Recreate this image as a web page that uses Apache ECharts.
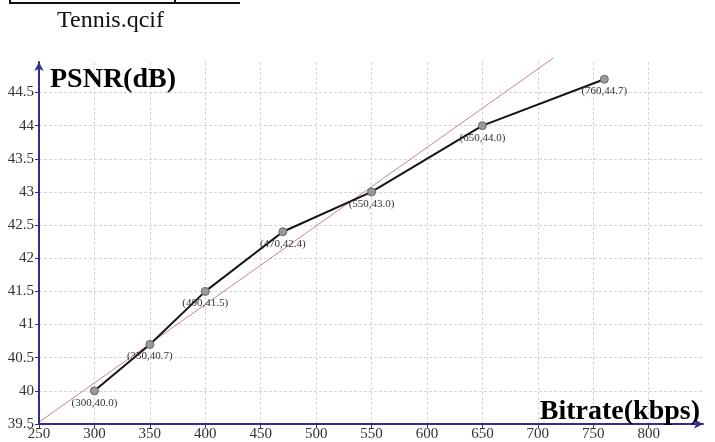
<!DOCTYPE html>
<html>
<head>
<meta charset="utf-8">
<script src="https://cdn.jsdelivr.net/npm/echarts@6/dist/echarts.min.js"></script>
<style>
  html, body { margin: 0; padding: 0; background: #fff; }
  #chart { width: 715px; height: 442px; }
</style>
</head>
<body>
<div id="chart"></div>
<script>
// Rate-distortion points for the Tennis.qcif sequence
const bitrates = [300, 350, 400, 470, 550, 650, 760];
const psnr = [40.0, 40.7, 41.5, 42.4, 43.0, 44.0, 44.7];

// Straight reference line, given by its two end points
const refLineX = [251, 714];
const refLineY = [39.54, 45.02];

const serif = '"Liberation Serif", "DejaVu Serif", serif';

const curve = bitrates.map((x, i) => [x, psnr[i]]);
const refLine = refLineX.map((x, i) => [x, refLineY[i]]);

const axisColor = '#2f2f90';
const gridLine = { show: true, showMinLine: true, showMaxLine: false,
  lineStyle: { color: '#d2d2ec', type: [3, 2], width: 1 } };

const chart = echarts.init(document.getElementById('chart'), null, { renderer: 'canvas' });
chart.setOption({
  backgroundColor: '#fff',
  animation: false,
  grid: { left: 39, right: 12, top: 62, bottom: 15, containLabel: false },
  title: [
    { text: 'Tennis.qcif', left: 52, top: 4,
      textStyle: { fontFamily: serif, fontSize: 24, fontWeight: 'normal', color: '#111' } },
    { text: 'PSNR(dB)', left: 45, top: 61,
      textStyle: { fontFamily: serif, fontSize: 28, fontWeight: 'bold', color: '#000' } },
    { text: 'Bitrate(kbps)', right: 10, top: 393,
      textStyle: { fontFamily: serif, fontSize: 28, fontWeight: 'bold', color: '#000' } }
  ],
  graphic: [
    { type: 'polyline', silent: true,
      shape: { points: [[10, 0], [10, 3], [240, 3]] },
      style: { stroke: '#111', lineWidth: 2, fill: null } },
    { type: 'line', silent: true,
      shape: { x1: 175, y1: 0, x2: 175, y2: 3 },
      style: { stroke: '#111', lineWidth: 2 } }
  ],
  xAxis: {
    type: 'value', min: 250, max: 849, interval: 50,
    axisLine: { show: true, symbol: ['none', 'arrow'], symbolSize: [7, 9],
      lineStyle: { color: axisColor, width: 2 } },
    axisTick: { show: true, length: 4, lineStyle: { color: axisColor, width: 1 } },
    axisLabel: { showMaxLabel: false, margin: 3, color: '#333',
      fontFamily: serif, fontSize: 15 },
    splitLine: gridLine
  },
  yAxis: {
    type: 'value', min: 39.5, max: 44.96, interval: 0.5,
    axisLine: { show: true, symbol: ['none', 'arrow'], symbolSize: [7, 9],
      lineStyle: { color: axisColor, width: 2 } },
    axisTick: { show: true, length: 4, lineStyle: { color: axisColor, width: 1 } },
    axisLabel: { showMaxLabel: false, margin: 5, color: '#333',
      fontFamily: serif, fontSize: 15 },
    splitLine: gridLine
  },
  series: [
    {
      type: 'line', data: refLine, showSymbol: false, clip: false, silent: true,
      lineStyle: { color: '#c48888', width: 1 }, z: 2
    },
    {
      type: 'line', data: curve, clip: false,
      symbol: 'circle', symbolSize: 8,
      lineStyle: { color: '#151515', width: 2 },
      itemStyle: { color: '#9a9a9a', borderColor: '#666', borderWidth: 1 },
      label: {
        show: true, position: 'bottom', distance: 2,
        fontFamily: serif, fontSize: 11, color: '#333',
        formatter: p => '(' + p.value[0] + ',' + p.value[1].toFixed(1) + ')'
      },
      z: 3
    }
  ]
});
</script>
</body>
</html>
